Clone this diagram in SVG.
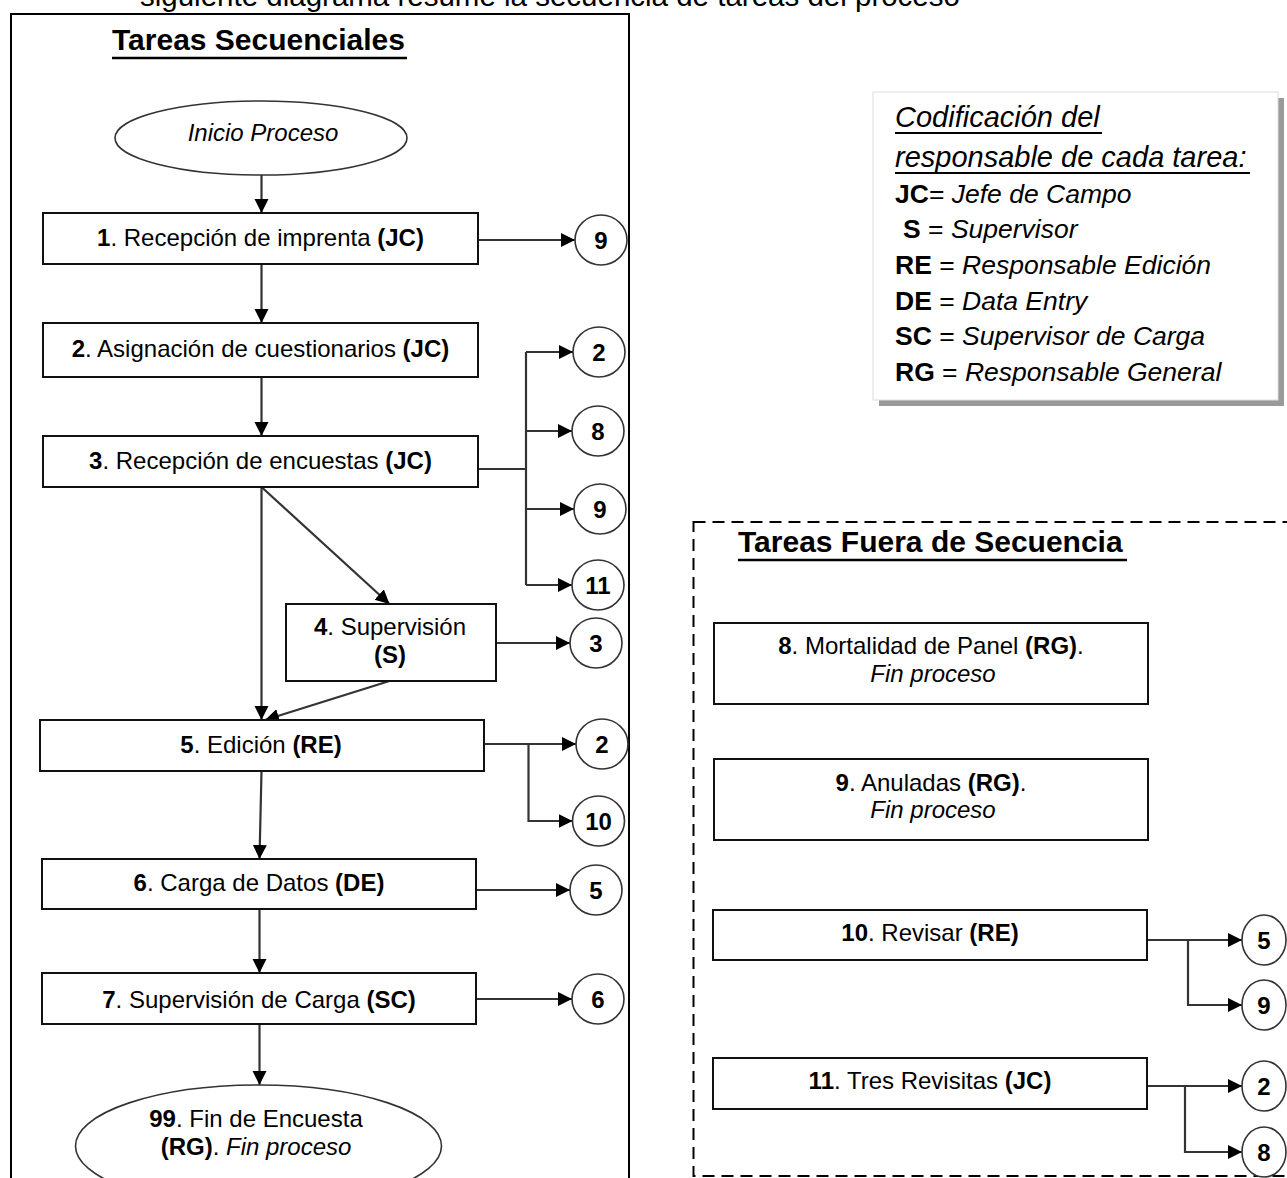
<svg xmlns="http://www.w3.org/2000/svg" width="1287" height="1178" viewBox="0 0 1287 1178">
<defs>
<style>
text{font-family:"Liberation Sans",Arial,sans-serif;fill:#000}
.t{font-size:24px}
.b{font-weight:bold}
.i{font-style:italic}
.title{font-size:30px;font-weight:bold}
.box{fill:#fff;stroke:#111;stroke-width:2}
.circ{fill:#fff;stroke:#333;stroke-width:1.6}
.num{font-size:24px;font-weight:bold;text-anchor:middle}
.c{text-anchor:middle}
.con{fill:none;stroke:#333;stroke-width:2.2}
.leg{font-size:26.5px}
.legh{font-size:29px;font-style:italic}
.ul{stroke:#000;stroke-width:2.5}
</style>
<marker id="ah" markerUnits="userSpaceOnUse" markerWidth="15" markerHeight="15" refX="14" refY="7" orient="auto">
<path d="M0,0 L14,7 L0,14 z" fill="#000"/>
</marker>
</defs>
<rect width="1287" height="1178" fill="#fff"/>

<text x="140" y="6" style="font-size:29.5px">siguiente diagrama resume la secuencia de tareas del proceso</text>

<g id="seq-container">
<rect x="11" y="14" width="618" height="1200" fill="none" stroke="#000" stroke-width="2"/>
<text x="112" y="50" class="title">Tareas Secuenciales</text>
<line x1="112" y1="58" x2="407" y2="58" class="ul"/>
</g>

<g id="legend">
<rect x="879" y="98" width="405" height="308" fill="#9a9a9a"/>
<rect x="873" y="92" width="405" height="308" fill="#fff" stroke="#ddd" stroke-width="1"/>
<text x="895" y="127" class="legh">Codificación del</text>
<line x1="895" y1="133" x2="1102" y2="133" stroke="#000" stroke-width="2"/>
<text x="895" y="167" class="legh">responsable de cada tarea:</text>
<line x1="895" y1="173" x2="1250" y2="173" stroke="#000" stroke-width="2"/>
<text x="895" y="203" class="leg"><tspan class="b">JC</tspan>= <tspan class="i">Jefe de Campo</tspan></text>
<text x="903" y="238" class="leg"><tspan class="b">S</tspan> = <tspan class="i">Supervisor</tspan></text>
<text x="895" y="274" class="leg"><tspan class="b">RE</tspan> = <tspan class="i">Responsable Edición</tspan></text>
<text x="895" y="310" class="leg"><tspan class="b">DE</tspan> = <tspan class="i">Data Entry</tspan></text>
<text x="895" y="345" class="leg"><tspan class="b">SC</tspan> = <tspan class="i">Supervisor de Carga</tspan></text>
<text x="895" y="381" class="leg"><tspan class="b">RG</tspan> = <tspan class="i">Responsable General</tspan></text>
</g>

<g id="oos-container">
<rect x="693.5" y="522" width="700" height="654" fill="none" stroke="#000" stroke-width="2" stroke-dasharray="12 7"/>
<text x="738" y="552" class="title">Tareas Fuera de Secuencia</text>
<line x1="738" y1="560" x2="1127" y2="560" class="ul"/>
</g>

<g id="connectors">
<line x1="261.5" y1="175" x2="261.5" y2="213" class="con" marker-end="url(#ah)"/>
<line x1="478" y1="240" x2="575" y2="240" class="con" marker-end="url(#ah)"/>
<line x1="261.5" y1="264" x2="261.5" y2="323" class="con" marker-end="url(#ah)"/>
<line x1="261.5" y1="377" x2="261.5" y2="436" class="con" marker-end="url(#ah)"/>
<polyline points="478,469 526,469" class="con"/>
<line x1="526" y1="352" x2="526" y2="585" class="con"/>
<line x1="526" y1="352" x2="573" y2="352" class="con" marker-end="url(#ah)"/>
<line x1="526" y1="431" x2="572" y2="431" class="con" marker-end="url(#ah)"/>
<line x1="526" y1="509" x2="574" y2="509" class="con" marker-end="url(#ah)"/>
<line x1="526" y1="585" x2="572" y2="585" class="con" marker-end="url(#ah)"/>
<line x1="261.5" y1="487" x2="389.5" y2="604" class="con" marker-end="url(#ah)"/>
<line x1="261.5" y1="487" x2="261.5" y2="720" class="con" marker-end="url(#ah)"/>
<line x1="496" y1="643" x2="570" y2="643" class="con" marker-end="url(#ah)"/>
<line x1="389.5" y1="681" x2="265" y2="720" class="con" marker-end="url(#ah)"/>
<line x1="484" y1="744" x2="576" y2="744" class="con" marker-end="url(#ah)"/>
<polyline points="528.5,744 528.5,821 572.5,821" class="con" marker-end="url(#ah)"/>
<line x1="261.5" y1="771" x2="259.5" y2="859" class="con" marker-end="url(#ah)"/>
<line x1="476" y1="890" x2="570" y2="890" class="con" marker-end="url(#ah)"/>
<line x1="259.5" y1="909" x2="259.5" y2="973" class="con" marker-end="url(#ah)"/>
<line x1="476" y1="999" x2="572" y2="999" class="con" marker-end="url(#ah)"/>
<line x1="259.5" y1="1024" x2="259.5" y2="1085" class="con" marker-end="url(#ah)"/>
<line x1="1147" y1="940" x2="1242" y2="940" class="con" marker-end="url(#ah)"/>
<polyline points="1188,940 1188,1005 1242,1005" class="con" marker-end="url(#ah)"/>
<line x1="1147" y1="1086" x2="1242" y2="1086" class="con" marker-end="url(#ah)"/>
<polyline points="1185,1086 1185,1152 1242,1152" class="con" marker-end="url(#ah)"/>
</g>

<g id="n-inicio">
<ellipse cx="261" cy="138" rx="146" ry="37" class="circ"/>
<text x="263" y="141" class="t i c">Inicio Proceso</text>
</g>
<g id="n1">
<rect x="43" y="213" width="435" height="51" class="box"/>
<text x="260.5" y="246" class="t c"><tspan class="b">1</tspan>. Recepción de imprenta <tspan class="b">(JC)</tspan></text>
</g>
<g id="n2">
<rect x="43" y="323" width="435" height="54" class="box"/>
<text x="260.5" y="357" class="t c"><tspan class="b">2</tspan>. Asignación de cuestionarios <tspan class="b">(JC)</tspan></text>
</g>
<g id="n3">
<rect x="43" y="436" width="435" height="51" class="box"/>
<text x="260.5" y="469" class="t c"><tspan class="b">3</tspan>. Recepción de encuestas <tspan class="b">(JC)</tspan></text>
</g>
<g id="n4">
<rect x="286" y="604" width="210" height="77" class="box"/>
<text x="390" y="635" class="t c"><tspan class="b">4</tspan>. Supervisión</text>
<text x="390" y="663" class="t c b">(S)</text>
</g>
<g id="n5">
<rect x="40" y="720" width="444" height="51" class="box"/>
<text x="261" y="753" class="t c"><tspan class="b">5</tspan>. Edición <tspan class="b">(RE)</tspan></text>
</g>
<g id="n6">
<rect x="42" y="859" width="434" height="50" class="box"/>
<text x="259" y="891" class="t c"><tspan class="b">6</tspan>. Carga de Datos <tspan class="b">(DE)</tspan></text>
</g>
<g id="n7">
<rect x="42" y="973" width="434" height="51" class="box"/>
<text x="259" y="1008" class="t c"><tspan class="b">7</tspan>. Supervisión de Carga <tspan class="b">(SC)</tspan></text>
</g>
<g id="n99">
<ellipse cx="258.5" cy="1146" rx="183" ry="61" class="circ"/>
<text x="256" y="1127" class="t c"><tspan class="b">99</tspan>. Fin de Encuesta</text>
<text x="256" y="1155" class="t c"><tspan class="b">(RG)</tspan>.  <tspan class="i">Fin proceso</tspan></text>
</g>

<g id="n8">
<rect x="714" y="623" width="434" height="81" class="box"/>
<text x="931" y="654" class="t c"><tspan class="b">8</tspan>. Mortalidad de Panel <tspan class="b">(RG)</tspan>.</text>
<text x="933" y="682" class="t c i">Fin proceso</text>
</g>
<g id="n9">
<rect x="714" y="759" width="434" height="81" class="box"/>
<text x="931" y="791" class="t c"><tspan class="b">9</tspan>. Anuladas <tspan class="b">(RG)</tspan>.</text>
<text x="933" y="818" class="t c i">Fin proceso</text>
</g>
<g id="n10">
<rect x="713" y="910" width="434" height="50" class="box"/>
<text x="930" y="941" class="t c"><tspan class="b">10</tspan>. Revisar <tspan class="b">(RE)</tspan></text>
</g>
<g id="n11">
<rect x="713" y="1058" width="434" height="51" class="box"/>
<text x="930" y="1089" class="t c"><tspan class="b">11</tspan>. Tres Revisitas <tspan class="b">(JC)</tspan></text>
</g>

<g id="ref-9a"><ellipse cx="601" cy="240" rx="26" ry="25" class="circ"/><text x="601" y="248.5" class="num">9</text></g>
<g id="ref-2a"><ellipse cx="599" cy="352" rx="26" ry="25" class="circ"/><text x="599" y="360.5" class="num">2</text></g>
<g id="ref-8a"><ellipse cx="598" cy="431" rx="26" ry="25" class="circ"/><text x="598" y="439.5" class="num">8</text></g>
<g id="ref-9b"><ellipse cx="600" cy="509" rx="26" ry="25" class="circ"/><text x="600" y="517.5" class="num">9</text></g>
<g id="ref-11"><ellipse cx="598" cy="585" rx="26" ry="25" class="circ"/><text x="598" y="593.5" class="num">11</text></g>
<g id="ref-3"><ellipse cx="596" cy="643" rx="26" ry="25" class="circ"/><text x="596" y="651.5" class="num">3</text></g>
<g id="ref-2b"><ellipse cx="602" cy="744" rx="26" ry="25" class="circ"/><text x="602" y="752.5" class="num">2</text></g>
<g id="ref-10"><ellipse cx="598.5" cy="821" rx="26" ry="25" class="circ"/><text x="598.5" y="829.5" class="num">10</text></g>
<g id="ref-5a"><ellipse cx="596" cy="890" rx="26" ry="25" class="circ"/><text x="596" y="898.5" class="num">5</text></g>
<g id="ref-6"><ellipse cx="598" cy="999" rx="26" ry="25" class="circ"/><text x="598" y="1007.5" class="num">6</text></g>
<g id="ref-5b"><ellipse cx="1264" cy="940" rx="22" ry="25" class="circ"/><text x="1264" y="948.5" class="num">5</text></g>
<g id="ref-9c"><ellipse cx="1264" cy="1005" rx="22" ry="25" class="circ"/><text x="1264" y="1013.5" class="num">9</text></g>
<g id="ref-2c"><ellipse cx="1264" cy="1086" rx="22" ry="25" class="circ"/><text x="1264" y="1094.5" class="num">2</text></g>
<g id="ref-8b"><ellipse cx="1264" cy="1152" rx="22" ry="25" class="circ"/><text x="1264" y="1160.5" class="num">8</text></g>
</svg>
